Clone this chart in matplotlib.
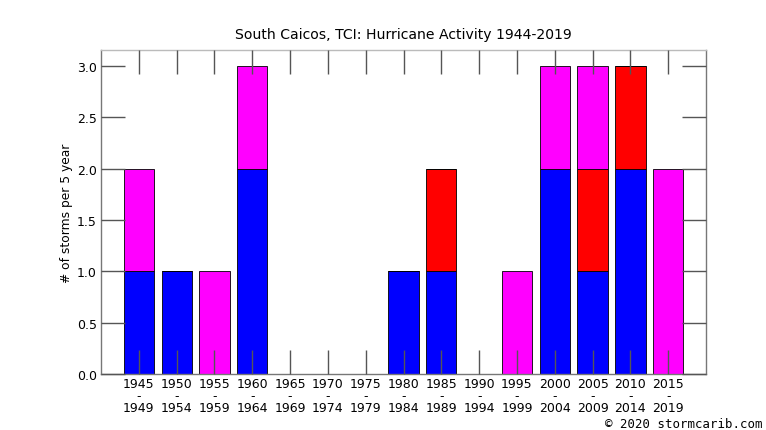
import numpy as np
import matplotlib
matplotlib.use("Agg")
import matplotlib.pyplot as plt

# 5-year periods and storm counts by category colour
starts = [1945, 1950, 1955, 1960, 1965, 1970, 1975, 1980,
          1985, 1990, 1995, 2000, 2005, 2010, 2015]
blue = [1, 1, 0, 2, 0, 0, 0, 1, 1, 0, 0, 2, 1, 2, 0]
red = [0, 0, 0, 0, 0, 0, 0, 0, 1, 0, 0, 0, 1, 1, 0]
magenta = [1, 0, 1, 1, 0, 0, 0, 0, 0, 0, 1, 1, 1, 0, 2]
yticks = [0.0, 0.5, 1.0, 1.5, 2.0, 2.5, 3.0]

labels = [f"{s}\n-\n{s + 4}" for s in starts]
x = np.arange(len(starts))
blue = np.array(blue)
red = np.array(red)
magenta = np.array(magenta)

fig = plt.figure(figsize=(7.66, 4.31), dpi=100)
ax = fig.add_axes([101 / 766, 1 - 375 / 431, 605 / 766, 324 / 431])

kw = dict(width=0.8, edgecolor="black", linewidth=0.6, zorder=1)
ax.bar(x, blue, color="#0000ff", **kw)
ax.bar(x, red, bottom=blue, color="#ff0000", **kw)
ax.bar(x, magenta, bottom=blue + red, color="#ff00ff", **kw)
ax.set_axisbelow(False)

ax.set_xlim(-1, 15)
ax.set_ylim(0, 3.155)
ax.set_xticks(x)
ax.set_xticklabels(labels, fontsize=9, linespacing=0.92)
ax.set_yticks(yticks)
ax.set_yticklabels([f"{v:.1f}" for v in yticks], fontsize=9)

ax.tick_params(direction="in", length=17, width=1, color="#555555",
               top=True, right=True, pad=3)
ax.tick_params(axis="x", pad=2)
for sp in ax.spines.values():
    sp.set_color("#777777")
    sp.set_linewidth(1)
ax.spines["top"].set_color("#bbbbbb")

ax.set_ylabel("# of storms per 5 year", fontsize=8.8, labelpad=3)
ax.set_title("South Caicos, TCI: Hurricane Activity 1944-2019",
             fontsize=10.1, pad=9)

fig.text(0.995, 0.0, "© 2020 stormcarib.com", ha="right", va="bottom",
         family="DejaVu Sans Mono", fontsize=8.9)

fig.savefig("out.png", dpi=100)
